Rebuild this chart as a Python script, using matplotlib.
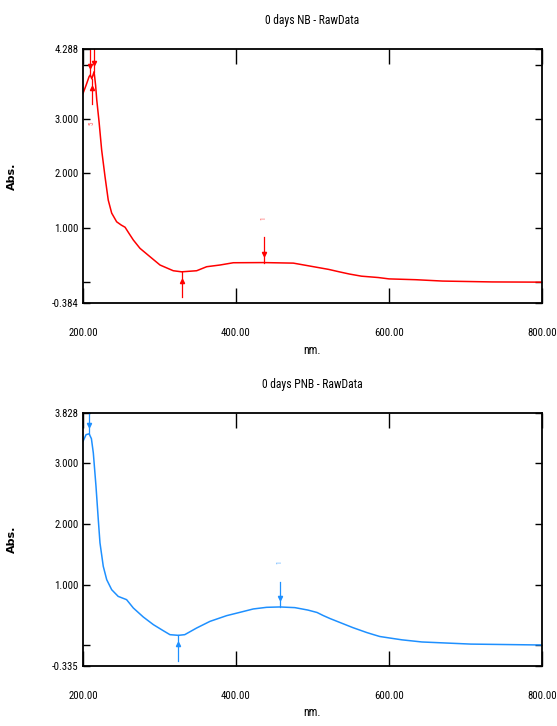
import matplotlib
matplotlib.use("Agg")
import matplotlib.pyplot as plt
import numpy as np
from matplotlib import font_manager

# 0 days NB spectrum (wavelength nm, absorbance)
nb_nm = [200, 204, 208, 209.5, 211.5, 214.5, 216.5, 218, 221, 224.4, 228.8, 233,
         237.5, 244, 250, 255, 260, 265.8, 274.5, 287.6, 300.7, 318, 329, 348.6,
         361.7, 379, 396.5, 436, 475, 489, 507, 521, 535, 548, 564, 586, 600,
         635, 670, 735, 800]
nb_abs = [3.47, 3.62, 3.78, 3.81, 3.74, 3.87, 3.62, 3.35, 2.95, 2.43, 1.94, 1.51,
          1.27, 1.11, 1.05, 1.01, 0.90, 0.775, 0.622, 0.468, 0.315, 0.21, 0.19, 0.21,
          0.284, 0.315, 0.357, 0.36, 0.35, 0.315, 0.27, 0.235, 0.19, 0.15, 0.11, 0.085, 0.06,
          0.045, 0.02, 0.004, 0.0]
nb_peaks = [209.5, 214.5, 436]
nb_valleys = [211.5, 329]
nb_peak_labels = ["2", "3", "1"]
nb_valley_labels = ["5", "1"]

# 0 days PNB spectrum
pnb_nm = [200, 204, 208, 211, 213.5, 217, 220, 222.2, 226.5, 231, 237.5, 246, 257,
          265.8, 278.8, 292, 305, 313.7, 324.6, 333, 348.6, 366, 387.8, 405, 422.6,
          440, 457.5, 477, 494, 506, 514, 523, 533, 545, 553, 562, 571, 580, 588,
          601, 617, 643, 707, 800]
pnb_abs = [3.356, 3.466, 3.48, 3.40, 3.165, 2.615, 2.067, 1.686, 1.30, 1.08, 0.915,
           0.805, 0.751, 0.614, 0.466, 0.34, 0.24, 0.175, 0.164, 0.175, 0.285, 0.394,
           0.488, 0.542, 0.598, 0.625, 0.631, 0.62, 0.58, 0.54, 0.49, 0.44, 0.39, 0.33,
           0.29, 0.25, 0.21, 0.175, 0.145, 0.12, 0.09, 0.055, 0.02, 0.005]
pnb_peaks = [208, 457.5]
pnb_valleys = [324.6]
pnb_peak_labels = ["2", "1"]
pnb_valley_labels = ["1"]

x_ticks = [200, 400, 600, 800]

panels = [
    ("0 days NB - RawData", nb_nm, nb_abs, nb_peaks, nb_peak_labels,
     nb_valleys, nb_valley_labels, (-0.384, 4.288), "#ff0000", "#ff6060"),
    ("0 days PNB - RawData", pnb_nm, pnb_abs, pnb_peaks, pnb_peak_labels,
     pnb_valleys, pnb_valley_labels, (-0.335, 3.828), "#1e90ff", "#5aaeff"),
]


def pick_narrow_font():
    # prefer a narrow/condensed sans face, else plain Liberation Sans
    fonts = font_manager.fontManager.ttflist
    names = {f.name for f in fonts}
    for name in ["Liberation Sans Narrow", "Arial Narrow", "Roboto Condensed",
                 "Open Sans Condensed", "DejaVu Sans Condensed"]:
        if name in names:
            return name, "normal"
    for name in ["Liberation Sans", "Roboto", "Noto Sans", "Open Sans", "DejaVu Sans"]:
        if any(f.name == name and f.stretch in ("condensed", "semi-condensed") for f in fonts):
            return name, "condensed"
    return "Liberation Sans", "normal"


family, stretch = pick_narrow_font()
plt.rcParams["font.family"] = [family, "DejaVu Sans"]
plt.rcParams["font.stretch"] = stretch

fig = plt.figure(figsize=(5.57, 7.26), dpi=100)
renderer = fig.canvas.get_renderer()


def size_for(text, width_px, ref_size=10):
    t = fig.text(0, 0, text, fontsize=ref_size)
    w = t.get_window_extent(renderer).width
    t.remove()
    return ref_size * width_px / w


tick_size = size_for("200.00", 29)
title_size = size_for("0 days NB - RawData", 94)

axes_rects = [(0.149, 0.5826, 0.824, 0.3499), (0.149, 0.0831, 0.824, 0.3485)]


def mark(ax, x, y_curve, span, up, color, label, label_color):
    # vertical marker line with small arrow head, label beyond the line end
    sign = 1 if up else -1
    y_end = y_curve + sign * 0.10 * span
    ax.plot([x, x], [y_curve, y_end], color=color, lw=0.9, clip_on=True)
    ax.plot(x, y_curve + sign * 0.035 * span, marker="v" if up else "^",
            color=color, ms=3.0, clip_on=True)
    ax.text(x, y_curve + sign * 0.175 * span, label, rotation=90, fontsize=5,
            color=label_color, ha="center", va="center", clip_on=True)


for rect, (title, nm, ab, peaks, plabels, valleys, vlabels, ylim, color, lcolor) in zip(axes_rects, panels):
    ax = fig.add_axes(rect)
    ax.plot(nm, ab, color=color, lw=1.1)
    span = ylim[1] - ylim[0]
    for x, lab in zip(peaks, plabels):
        mark(ax, x, np.interp(x, nm, ab), span, True, color, lab, lcolor)
    for x, lab in zip(valleys, vlabels):
        mark(ax, x, np.interp(x, nm, ab), span, False, color, lab, lcolor)

    ax.set_xlim(200, 800)
    ax.set_ylim(*ylim)
    ax.set_xticks(x_ticks)
    ax.set_xticklabels([f"{v:.2f}" for v in x_ticks])
    yt = [ylim[0], 1.0, 2.0, 3.0, ylim[1]]
    ax.set_yticks(yt)
    ax.set_yticklabels([f"{v:.3f}" for v in yt])
    minor = [0.0] + ([4.0] if ylim[1] > 4.0 else [])
    ax.set_yticks(minor, minor=True)
    ax.tick_params(axis="x", direction="in", length=11, width=1.0, top=True,
                   labelsize=tick_size, pad=18)
    ax.tick_params(axis="y", which="both", direction="in", length=5, width=1.0,
                   right=True, labelsize=tick_size, pad=3)
    for s in ax.spines.values():
        s.set_linewidth(1.3)

    ax.set_title(title, fontsize=title_size, pad=18)
    ax.set_xlabel("nm.", fontsize=title_size, labelpad=4)
    ax.set_ylabel("Abs.", fontsize=8, fontweight="bold", family="DejaVu Sans")
    ax.yaxis.set_label_coords(-0.145, 0.5)

fig.savefig("out.png", dpi=100)
